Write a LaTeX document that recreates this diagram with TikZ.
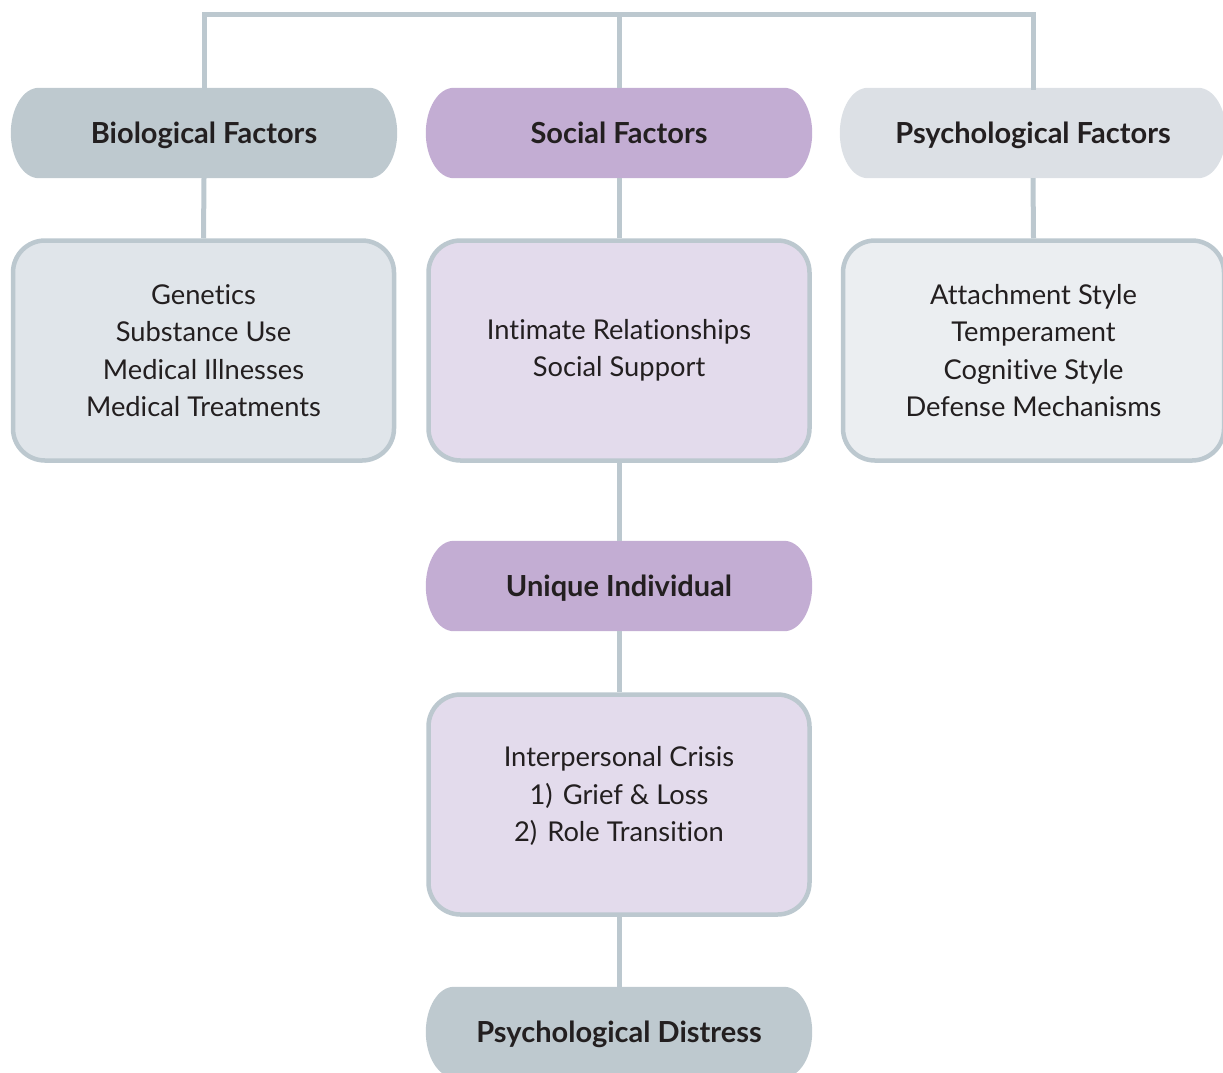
\documentclass[tikz,border=0pt]{standalone}
\usepackage{fontspec}
\setmainfont{Lato}[Ligatures=NoCommon]
\usetikzlibrary{backgrounds}
\definecolor{linec}{HTML}{BCC8CF}
\definecolor{bioh}{HTML}{BEC9CF}
\definecolor{soch}{HTML}{C3ADD3}
\definecolor{psyh}{HTML}{DCE0E5}
\definecolor{biob}{HTML}{E0E5EA}
\definecolor{socb}{HTML}{E3DBEC}
\definecolor{psyb}{HTML}{EBEEF1}
\definecolor{txt}{HTML}{231F20}
\newcommand{\pillfill}[2]{%
 \fill[#2] ([xshift=28pt]#1.north west) -- ([xshift=-28pt]#1.north east)
  .. controls ([xshift=-12.5pt]#1.north east) and ([yshift=24.8pt]#1.east) .. (#1.east)
  .. controls ([yshift=-24.8pt]#1.east) and ([xshift=-12.5pt]#1.south east) .. ([xshift=-28pt]#1.south east)
  -- ([xshift=28pt]#1.south west)
  .. controls ([xshift=12.5pt]#1.south west) and ([yshift=-24.8pt]#1.west) .. (#1.west)
  .. controls ([yshift=24.8pt]#1.west) and ([xshift=12.5pt]#1.north west) .. ([xshift=28pt]#1.north west) -- cycle;}
\tikzset{
  pill/.style={rectangle, minimum width=386pt, minimum height=90pt, inner sep=0pt,
    text height=21pt, text depth=0pt,
    text=txt, font=\fontsize{29}{33}\selectfont\bfseries},
  itembox/.style={rectangle, rounded corners=32pt, draw=linec, line width=4.5pt,
    minimum width=381pt, minimum height=220pt, inner sep=0pt, align=center,
    text=txt, font=\fontsize{27.3}{37.5}\selectfont},
  itemtext/.style={align=center, inner sep=0pt, text=txt, font=\fontsize{27.3}{37.5}\selectfont},
  conn/.style={draw=linec, line width=5pt},
}
\begin{document}
\begin{tikzpicture}[x=1pt,y=-1pt]
\useasboundingbox (0,0) rectangle (1223,1072);
% headers
\node[pill] (bio) at (204,133) {Biological Factors};
\node[pill] (soc) at (619,133) {Social Factors};
\node[pill] (psy) at (1033,133) {Psychological Factors};
\node[pill] (uni) at (619,586) {Unique Individual};
\node[pill] (dis) at (619,1032) {Psychological Distress};
\begin{scope}[on background layer]
\pillfill{bio}{bioh}
\pillfill{soc}{soch}
\pillfill{psy}{psyh}
\pillfill{uni}{soch}
\pillfill{dis}{bioh}
\end{scope}
% boxes
\node[itembox, fill=biob] (biobox) at (203.5,350.5) {Genetics\\Substance Use\\Medical Illnesses\\Medical Treatments};
\node[itembox, fill=socb] (socbox) at (619,350.5) {Intimate Relationships\\Social Support};
\node[itembox, fill=psyb] (psybox) at (1033.5,350.5) {Attachment Style\\Temperament\\Cognitive Style\\Defense Mechanisms};
\node[itembox, fill=socb] (crisis) at (619,804.5) {};
\node[itemtext] (crisistext) at (619,796) {Interpersonal Crisis\\1)\hspace{10pt}Grief \& Loss\\2)\hspace{10pt}Role Transition};
% connectors
\coordinate (tl) at (204,14);
\coordinate (tm) at (619,14);
\coordinate (tr) at (1033,14);
\draw[conn, line cap=rect] (bio.north) -- (tl) -- (tr) -- (psy.north);
\draw[conn] (tm) -- (soc.north);
\draw[conn] (bio.south) -- (biobox.north);
\draw[conn] (soc.south) -- (socbox.north);
\draw[conn] (psy.south) -- (psybox.north);
\draw[conn] (socbox.south) -- (uni.north);
\draw[conn] (uni.south) -- (crisis.north);
\draw[conn] (crisis.south) -- (dis.north);
\end{tikzpicture}
\end{document}
